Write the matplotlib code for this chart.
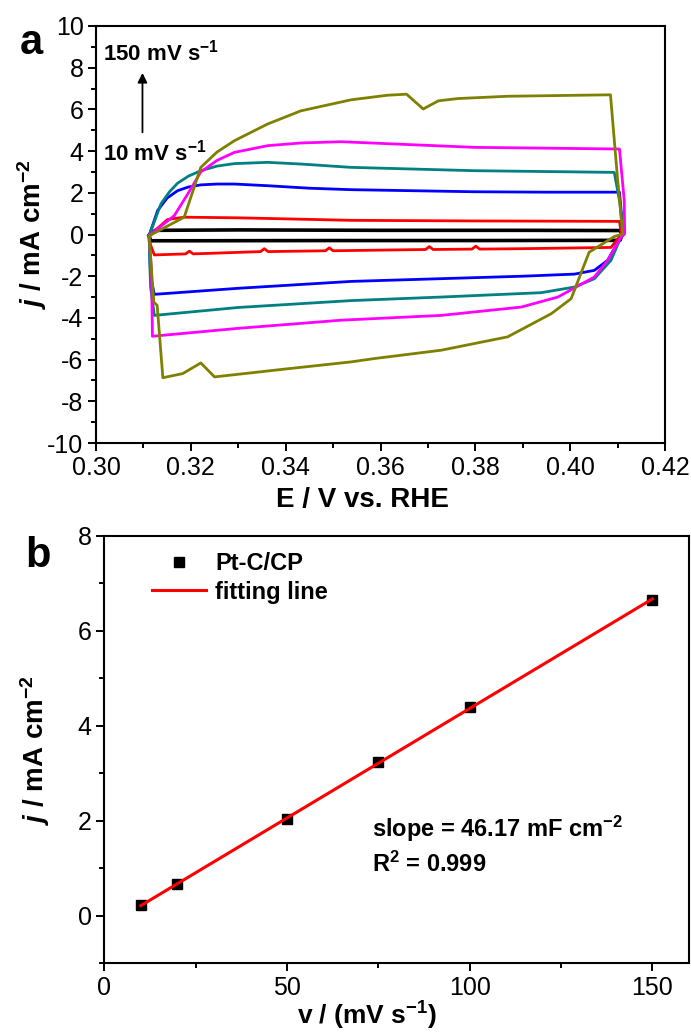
import numpy as np
import matplotlib
matplotlib.use('Agg')
import matplotlib.pyplot as plt
from matplotlib.ticker import MultipleLocator

plt.rcParams['font.family'] = ['Liberation Sans', 'DejaVu Sans']
plt.rcParams['mathtext.fontset'] = 'custom'
plt.rcParams['mathtext.rm'] = 'Liberation Sans:bold'
plt.rcParams['mathtext.it'] = 'Liberation Sans:bold:italic'
plt.rcParams['mathtext.bf'] = 'Liberation Sans:bold'
plt.rcParams['axes.unicode_minus'] = False

# ---- panel a: CV loops at different scan rates (E in V, j in mA cm-2) ----
scan_labels = ['10', '20', '50', '75', '100', '150']
cv_colors = ['#000000', '#FF0000', '#0000FF', '#008080', '#FF00FF', '#808000']

E_10 = [0.3112, 0.3125, 0.330, 0.360, 0.390, 0.4105, 0.4110,
        0.4105, 0.380, 0.350, 0.320, 0.3115, 0.3112]
j_10 = [-0.05, 0.20, 0.22, 0.20, 0.20, 0.19, 0.00,
        -0.28, -0.29, -0.29, -0.30, -0.30, -0.05]

E_20 = [0.3112, 0.3135, 0.3151, 0.3186, 0.330, 0.3538, 0.380, 0.4104, 0.4108,
        0.4086, 0.390, 0.3809, 0.3801, 0.3793, 0.3711, 0.3703, 0.3695,
        0.350, 0.3492, 0.3484, 0.3363, 0.3355, 0.3347, 0.3205, 0.3197, 0.3189,
        0.3123, 0.3115, 0.3112]
j_20 = [-0.05, 0.40, 0.72, 0.83, 0.80, 0.68, 0.65, 0.63, 0.00,
        -0.62, -0.68, -0.70, -0.56, -0.70, -0.72, -0.58, -0.72,
        -0.78, -0.64, -0.78, -0.82, -0.68, -0.82, -0.93, -0.80, -0.93,
        -0.98, -0.50, -0.05]

E_50 = [0.3112, 0.3130, 0.3150, 0.3172, 0.3195, 0.3221, 0.3255, 0.3292, 0.3362,
        0.3450, 0.3538, 0.3798, 0.3950, 0.4104, 0.4108, 0.4111,
        0.4095, 0.4079, 0.4051, 0.4009, 0.3900, 0.3798, 0.3538, 0.3300, 0.3123,
        0.3115, 0.3112]
j_50 = [-0.05, 1.15, 1.75, 2.10, 2.28, 2.38, 2.42, 2.42, 2.34,
        2.22, 2.15, 2.05, 2.03, 2.03, 1.00, 0.00,
        -0.60, -1.24, -1.72, -1.90, -2.00, -2.07, -2.25, -2.58, -2.87,
        -2.00, -0.05]

E_75 = [0.3112, 0.3137, 0.3155, 0.3172, 0.3195, 0.3221, 0.3255, 0.3292, 0.3362,
        0.3432, 0.3538, 0.3798, 0.4093, 0.4105, 0.4111,
        0.4107, 0.4086, 0.4051, 0.4009, 0.3939, 0.3728, 0.3538, 0.3300, 0.3123,
        0.3115, 0.3112]
j_75 = [-0.05, 1.47, 2.05, 2.46, 2.80, 3.06, 3.28, 3.40, 3.46,
        3.38, 3.22, 3.06, 2.98, 1.50, 0.00,
        -0.13, -1.24, -2.12, -2.52, -2.79, -3.00, -3.17, -3.50, -3.88,
        -2.50, -0.05]

E_100 = [0.3112, 0.3165, 0.3195, 0.3221, 0.3255, 0.3292, 0.3362, 0.3432, 0.3517,
         0.3798, 0.4104, 0.4114, 0.4115,
         0.4107, 0.4079, 0.4051, 0.3974, 0.3897, 0.3728, 0.3517, 0.3300, 0.3119,
         0.3117, 0.3112]
j_100 = [-0.05, 0.90, 2.00, 3.00, 3.55, 3.94, 4.26, 4.39, 4.45,
         4.18, 4.10, 1.63, 0.03,
         -0.13, -1.24, -2.04, -3.00, -3.48, -3.88, -4.11, -4.50, -4.88,
         -1.72, -0.05]

E_150 = [0.3113, 0.3186, 0.3221, 0.3255, 0.3292, 0.3362, 0.3432, 0.3538, 0.3615,
         0.3655, 0.3690, 0.3722, 0.3763, 0.3868, 0.4085, 0.4100, 0.4111,
         0.4093, 0.4040, 0.4002, 0.3960, 0.3868, 0.3728, 0.3587, 0.3538, 0.3400,
         0.3250, 0.3221, 0.3183, 0.3141, 0.3129, 0.3122, 0.3112]
j_150 = [-0.05, 0.83, 3.22, 3.95, 4.50, 5.30, 5.93, 6.46, 6.68,
         6.73, 6.02, 6.41, 6.52, 6.63, 6.70, 2.66, 0.03,
         -0.10, -0.85, -3.08, -3.80, -4.91, -5.55, -5.95, -6.11, -6.45,
         -6.83, -6.16, -6.67, -6.87, -3.40, -3.24, -0.13]

cv_E = [E_10, E_20, E_50, E_75, E_100, E_150]
cv_j = [j_10, j_20, j_50, j_75, j_100, j_150]

# ---- panel b: anodic current vs scan rate ----
scan_rate = [10, 20, 50, 75, 100, 150]
j_anodic = [0.22, 0.67, 2.04, 3.23, 4.39, 6.66]


def style_axis(ax):
    for sp in ax.spines.values():
        sp.set_linewidth(1.5)
    ax.tick_params(which='both', direction='out', width=1.4, top=False, right=False,
                   labelsize=18)
    ax.tick_params(which='major', length=5.5)
    ax.tick_params(which='minor', length=3.5)


fig = plt.figure(figsize=(6.91, 10.34), dpi=100)

# panel a
ax1 = fig.add_axes([96 / 691, 1 - 443 / 1034, 569 / 691, 417 / 1034])
for E, j, c in zip(cv_E, cv_j, cv_colors):
    ax1.plot(E, j, color=c, lw=2.0 if c != '#000000' else 2.6)
ax1.set_xlim(0.30, 0.42)
ax1.set_ylim(-10, 10)
ax1.xaxis.set_major_locator(MultipleLocator(0.02))
ax1.xaxis.set_minor_locator(MultipleLocator(0.01))
ax1.yaxis.set_major_locator(MultipleLocator(2))
ax1.yaxis.set_minor_locator(MultipleLocator(1))
ax1.xaxis.set_major_formatter(matplotlib.ticker.FormatStrFormatter('%.2f'))
style_axis(ax1)
ax1.text(0.3015, 8.75, scan_labels[-1] + ' mV s$^{-1}$', fontsize=16, fontweight='bold',
         ha='left', va='center')
ax1.text(0.3015, 3.95, scan_labels[0] + ' mV s$^{-1}$', fontsize=16, fontweight='bold',
         ha='left', va='center')
ax1.annotate('', xy=(0.3098, 7.75), xytext=(0.3098, 4.9),
             arrowprops=dict(arrowstyle='-|>', color='black', lw=1.3,
                             mutation_scale=14, shrinkA=0, shrinkB=0))
ax1.text(0.469, -0.137, 'E / V vs. RHE', transform=ax1.transAxes, fontsize=20,
         fontweight='bold', ha='center', va='center')
ax1.text(-0.113, 0.5, '$j$ / mA cm$^{-2}$', transform=ax1.transAxes, fontsize=20,
         fontweight='bold', rotation=90, ha='center', va='center')

# panel b
ax2 = fig.add_axes([104.3 / 691, 1 - 963.3 / 1034, 584.7 / 691, 427.3 / 1034])
slope, intercept = np.polyfit(scan_rate, j_anodic, 1)
v_fit = np.array([scan_rate[0], scan_rate[-1]])
ax2.plot(scan_rate, j_anodic, 's', color='black', markersize=7, label='Pt-C/CP', zorder=3)
ax2.plot(v_fit, slope * v_fit + intercept, color='#FF0000', lw=2.2, label='fitting line',
         zorder=4)
ax2.set_xlim(0, 160)
ax2.set_ylim(-1, 8)
ax2.xaxis.set_major_locator(MultipleLocator(50))
ax2.xaxis.set_minor_locator(MultipleLocator(25))
ax2.yaxis.set_major_locator(MultipleLocator(2))
ax2.yaxis.set_minor_locator(MultipleLocator(1))
style_axis(ax2)
ax2.legend(loc='upper left', bbox_to_anchor=(0.065, 0.985), frameon=False,
           prop={'weight': 'bold', 'size': 17}, handlelength=2.3, handletextpad=0.4,
           labelspacing=0.25, borderaxespad=0)
ax2.text(0.458, 0.315, 'slope = 46.17 mF cm$^{-2}$', transform=ax2.transAxes, fontsize=17,
         fontweight='bold', ha='left', va='center')
ax2.text(0.458, 0.232, 'R$^{2}$ = 0.999', transform=ax2.transAxes, fontsize=17,
         fontweight='bold', ha='left', va='center')
fig.text(367 / 691, 1 - 1016 / 1034, 'v / (mV s$^{-1}$)', fontsize=19,
         fontweight='bold', ha='center', va='center')
ax2.text(-0.118, 0.5, '$j$ / mA cm$^{-2}$', transform=ax2.transAxes, fontsize=20,
         fontweight='bold', rotation=90, ha='center', va='center')

fig.text(31 / 691, 1 - 43 / 1034, 'a', fontsize=30, fontweight='bold', ha='center',
         va='center')
fig.text(38 / 691, 1 - 556 / 1034, 'b', fontsize=30, fontweight='bold', ha='center',
         va='center')

fig.savefig('out.png', dpi=100)
